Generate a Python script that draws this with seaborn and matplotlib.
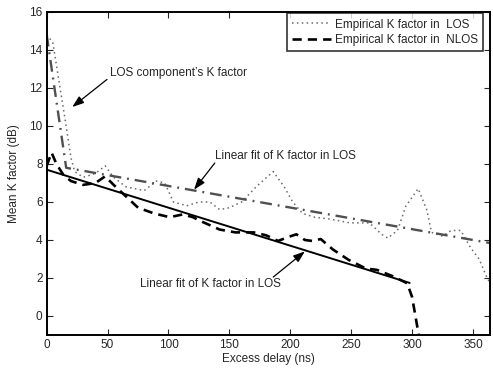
import numpy as np
import pandas as pd
import matplotlib
matplotlib.use("Agg")
import matplotlib.pyplot as plt
import seaborn as sns

# ---- data ----
los_delay = [0, 5, 10, 15, 20, 23, 30, 40, 48, 55, 65, 80, 90, 97, 104, 115, 125, 134, 142,
             150, 160, 172, 186, 195, 202, 210, 220, 233, 249, 265, 275, 280, 288, 295, 305,
             312, 316, 325, 332, 340, 348, 355, 361, 365]
los_k = [14.8, 14.4, 12.4, 10.4, 8.3, 7.6, 7.3, 7.5, 7.9, 7.3, 6.8, 6.6, 7.1, 7.0, 6.0, 5.8,
         6.0, 6.0, 5.6, 5.7, 6.0, 6.8, 7.6, 6.8, 6.0, 5.4, 5.2, 5.1, 4.9, 4.9, 4.3, 4.1, 4.5,
         5.8, 6.7, 5.6, 4.4, 4.2, 4.5, 4.5, 3.6, 3.0, 2.1, 1.6]

nlos_delay = [0, 4, 8, 14, 20, 30, 40, 48, 55, 65, 75, 88, 101, 112, 120, 128, 142, 155, 170,
              180, 190, 198, 205, 212, 218, 225, 235, 248, 262, 271, 285, 296, 300, 306]
nlos_k = [7.9, 8.6, 8.0, 7.4, 7.1, 6.9, 7.0, 7.35, 6.9, 6.3, 5.7, 5.4, 5.2, 5.35, 5.2, 4.95,
          4.55, 4.4, 4.4, 4.25, 3.95, 4.15, 4.3, 4.0, 3.95, 4.05, 3.5, 2.95, 2.5, 2.43, 2.07,
          1.72, 1.0, -1.2]

los_fit_delay = [0, 16, 365]
los_fit_k = [14.8, 7.8, 3.83]

nlos_fit_delay = [0, 298]
nlos_fit_k = [7.7, 1.74]

legend_labels = ["Empirical K factor in  LOS", "Empirical K factor in  NLOS"]
ann_texts = ["LOS component\u2019s K factor", "Linear fit of K factor in LOS",
             "Linear fit of K factor in LOS"]

# ---- style ----
sns.set_style("ticks")
plt.rcParams["font.family"] = ["Liberation Sans", "DejaVu Sans"]
plt.rcParams["xtick.direction"] = "in"
plt.rcParams["ytick.direction"] = "in"

fig = plt.figure(figsize=(4.93, 3.70), dpi=100)
ax = fig.add_axes([0.0947, 0.0946, 0.8993, 0.873])

sns.lineplot(x=los_delay, y=los_k, ax=ax, color="#6a6a6a", lw=1.1,
             linestyle=(0, (1, 2.2)), label=legend_labels[0])
sns.lineplot(x=nlos_delay, y=nlos_k, ax=ax, color="black", lw=1.9,
             linestyle=(0, (3.5, 2.3)), label=legend_labels[1])
sns.lineplot(x=los_fit_delay, y=los_fit_k, ax=ax, color="#505050", lw=1.7,
             linestyle=(0, (5, 2.5, 0.8, 2.5)), legend=False)
sns.lineplot(x=nlos_fit_delay, y=nlos_fit_k, ax=ax, color="black", lw=1.4, legend=False)

ax.set_xlim(0, 364)
ax.set_ylim(-1, 16)
ax.set_xticks(np.arange(0, 351, 50))
ax.set_yticks(np.arange(0, 17, 2))
ax.set_xlabel("Excess delay (ns)", fontsize=8.5, labelpad=1)
ax.set_ylabel("Mean K factor (dB)", fontsize=8.5, labelpad=7)
ax.tick_params(labelsize=8.5, length=4, width=0.8, top=True, right=True, pad=3)
for s in ax.spines.values():
    s.set_linewidth(1.4)
    s.set_color("black")

leg = ax.legend(loc="upper right", bbox_to_anchor=(0.984, 0.996), fontsize=8.5,
                frameon=True, fancybox=False, borderaxespad=0.0, handlelength=3.3,
                handletextpad=0.3, borderpad=0.45, labelspacing=0.3)
leg.get_frame().set_edgecolor("black")
leg.get_frame().set_linewidth(1.2)

arrow = dict(arrowstyle="-|>,head_length=0.7,head_width=0.25", color="black", lw=0.9,
             shrinkA=0, shrinkB=0)
ax.text(52, 12.8, ann_texts[0], fontsize=8.5, va="center", ha="left")
ax.annotate("", xy=(21, 11.0), xytext=(49.5, 12.45), arrowprops=arrow)
ax.text(138, 8.4, ann_texts[1], fontsize=8.5, va="center", ha="left")
ax.annotate("", xy=(121, 6.65), xytext=(138, 8.05), arrowprops=arrow)
ax.text(77, 1.7, ann_texts[2], fontsize=8.5, va="center", ha="left")
ax.annotate("", xy=(212, 3.4), xytext=(186, 2.05), arrowprops=arrow)

fig.savefig("out.png", dpi=100)
